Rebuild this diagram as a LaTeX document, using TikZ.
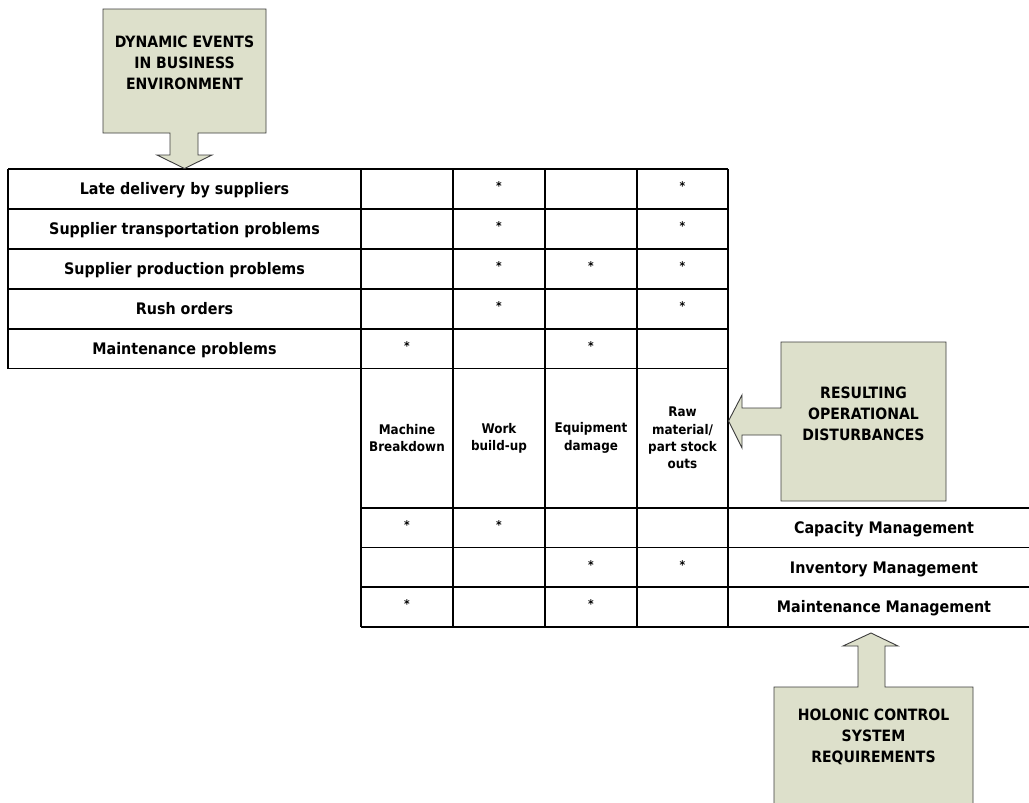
\documentclass[tikz,border=0pt]{standalone}
\usepackage{fontspec}
\setmainfont{DejaVu Sans}[FakeStretch=0.9]
\definecolor{olivefill}{RGB}{221,224,203}
\definecolor{arrowline}{RGB}{60,60,60}
\begin{document}
\begin{tikzpicture}[x=1pt,y=-1pt,
  grid/.style={line width=1.8pt,black},
  callout/.style={fill=olivefill,draw=arrowline,line width=0.9pt,line join=miter},
  boxtext/.style={align=center,inner sep=0pt,font=\fontsize{15.6}{21}\selectfont\bfseries},
  rowtext/.style={anchor=base,inner sep=0pt,font=\fontsize{15.9}{18}\selectfont\bfseries},
  headtext/.style={align=center,inner sep=0pt,font=\fontsize{13.3}{17.3}\selectfont\bfseries},
  startext/.style={anchor=base,inner sep=0pt,font=\fontsize{12}{13}\selectfont\bfseries}]
\useasboundingbox (0,0) rectangle (1029,803);
\clip (0,0) rectangle (1029,803);
\fill[white] (0,0) rectangle (1029,803);

% column and row edges
\def\cA{8}\def\cB{361}\def\cC{453}\def\cD{545}\def\cE{637}\def\cF{728}\def\cG{1040}
% column centres
\def\xA{184.5}\def\xB{407}\def\xC{499}\def\xD{591}\def\xE{682.5}\def\xF{884}

% upper table: events
\foreach \y in {169,209,249,288.7,328.6,368.5}
  \draw[grid] (\cA,\y) -- (\cF,\y);
\draw[grid] (\cA,169) -- (\cA,368.5);
\foreach \x in {\cB,\cC,\cD,\cE,\cF}
  \draw[grid] (\x,169) -- (\x,627);
% lower table: disturbances and requirements
\foreach \y in {508,547.5,587,627}
  \draw[grid] (\cB,\y) -- (\cG,\y);

% event labels
\node[rowtext] (ev1) at (\xA,194.8) {Late delivery by suppliers};
\node[rowtext] (ev2) at (\xA,234.8) {Supplier transportation problems};
\node[rowtext] (ev3) at (\xA,274.6) {Supplier production problems};
\node[rowtext] (ev4) at (\xA,314.4) {Rush orders};
\node[rowtext] (ev5) at (\xA,354.3) {Maintenance problems};

% disturbance headers
\node[headtext] (hd1) at (\xB,438) {Machine\\Breakdown};
\node[headtext] (hd2) at (\xC,438) {Work\\build-up};
\node[headtext] (hd3) at (\xD,438) {Equipment\\damage};
\node[headtext] (hd4) at (\xE,438) {Raw\\material/\\part stock\\outs};

% requirement labels
\node[rowtext] (rq1) at (\xF,533.6) {Capacity Management};
\node[rowtext] (rq2) at (\xF,573.1) {Inventory Management};
\node[rowtext] (rq3) at (\xF,612.8) {Maintenance Management};

% markers
\foreach \x/\y [count=\i] in {
  \xC/189, \xE/189,
  \xC/229, \xE/229,
  \xC/269, \xD/269, \xE/269,
  \xC/309, \xE/309,
  \xB/348.5, \xD/348.5,
  \xB/528, \xC/528,
  \xD/567.5, \xE/567.5,
  \xB/607, \xD/607}
  \node[startext] (st\i) at (\x,\y+1.8) {*};

% callout: dynamic events
\draw[callout] (103,9) -- (266,9) -- (266,133) -- (198,133) -- (198,155)
  -- (212,155) -- (184.5,168.5) -- (157,155) -- (170,155) -- (170,133)
  -- (103,133) -- cycle;
\node[boxtext] (dyn) at (184.5,63) {DYNAMIC EVENTS\\IN BUSINESS\\ENVIRONMENT};

% callout: operational disturbances
\draw[callout] (946,342) -- (946,501) -- (781,501) -- (781,435) -- (742,435)
  -- (742,448) -- (728.5,421) -- (742,395) -- (742,408) -- (781,408)
  -- (781,342) -- cycle;
\node[boxtext] (dist) at (863.5,414) {RESULTING\\OPERATIONAL\\DISTURBANCES};

% callout: control system requirements
\draw[callout] (774,815) -- (774,687) -- (858,687) -- (858,646) -- (843,646)
  -- (871,633) -- (898,646) -- (885,646) -- (885,687) -- (973,687)
  -- (973,815) -- cycle;
\node[boxtext] (hcs) at (873.5,737) {HOLONIC CONTROL\\SYSTEM\\REQUIREMENTS};
\end{tikzpicture}
\end{document}
